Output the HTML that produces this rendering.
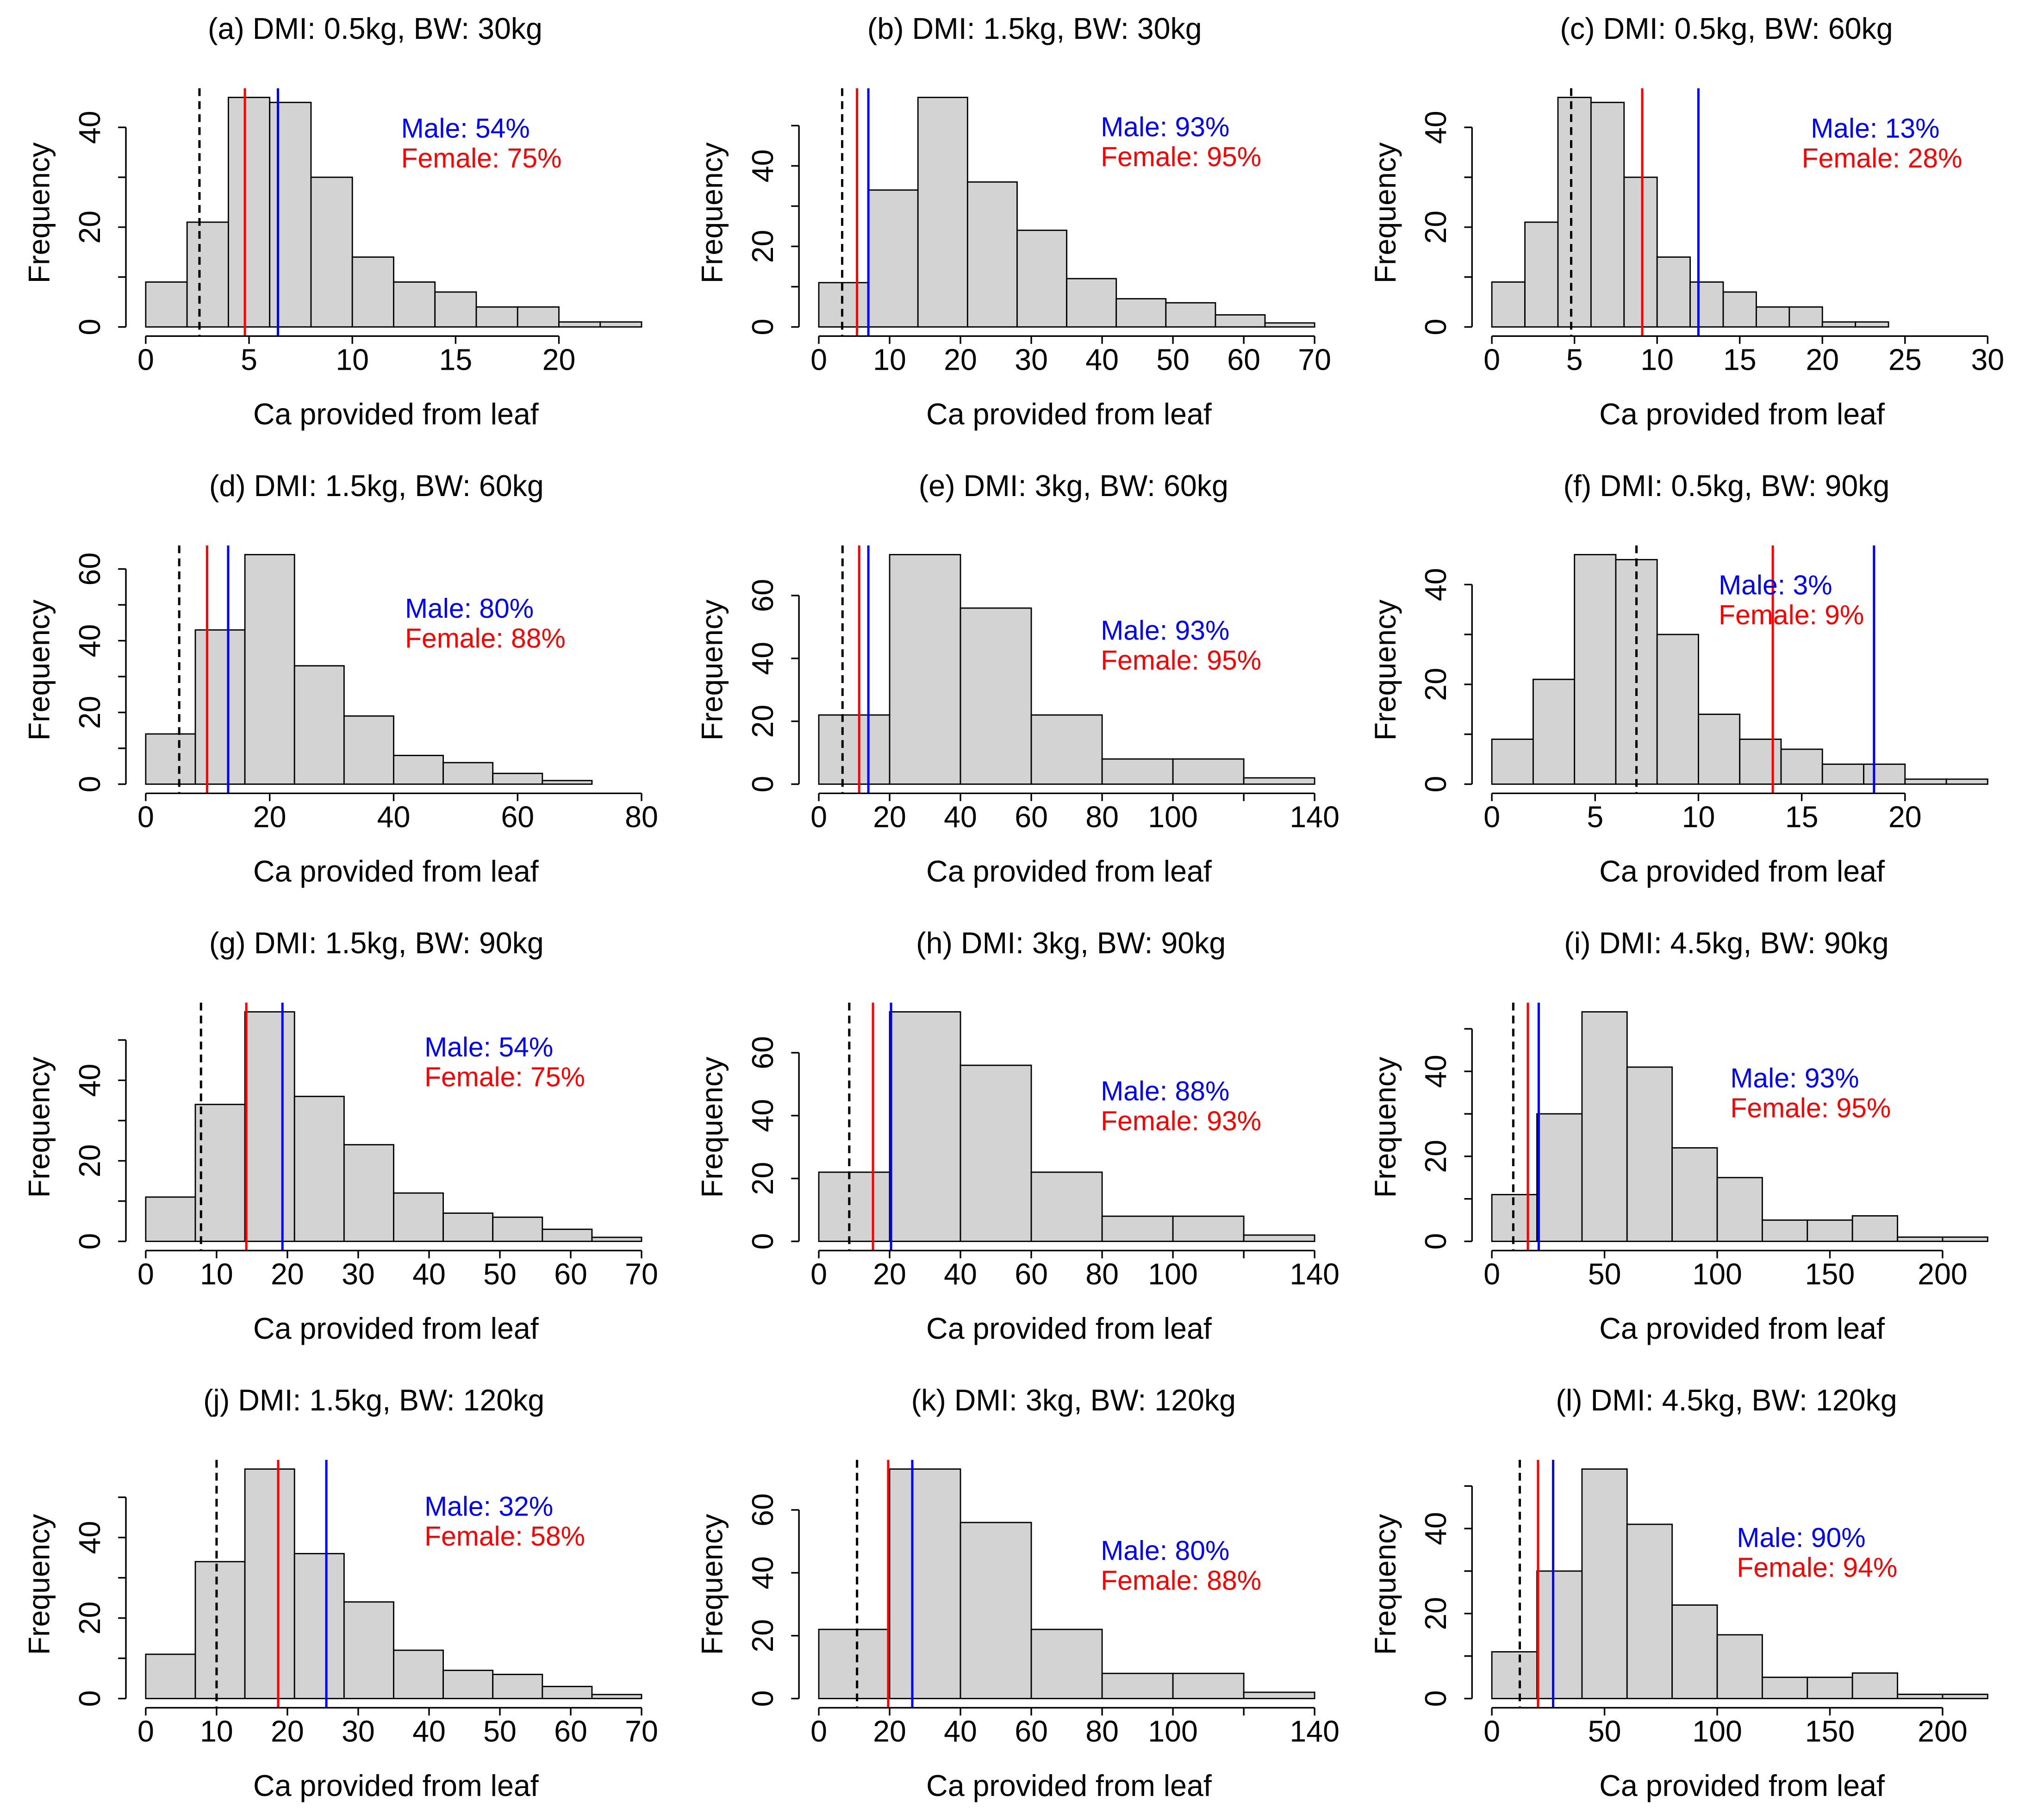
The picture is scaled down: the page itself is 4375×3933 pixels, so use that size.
<!DOCTYPE html>
<html><head><meta charset="utf-8"><style>html,body{margin:0;padding:0;background:#fff}svg{display:block}</style></head>
<body>
<svg id="fig" xmlns="http://www.w3.org/2000/svg" width="4375" height="3933" viewBox="0 0 1560 1402.4" preserveAspectRatio="none" font-family="'Liberation Sans', Arial, sans-serif"></svg>
<script>
// ---- data ----
const titles = ["(a) DMI: 0.5kg, BW: 30kg","(b) DMI: 1.5kg, BW: 30kg","(c) DMI: 0.5kg, BW: 60kg","(d) DMI: 1.5kg, BW: 60kg","(e) DMI: 3kg, BW: 60kg","(f) DMI: 0.5kg, BW: 90kg","(g) DMI: 1.5kg, BW: 90kg","(h) DMI: 3kg, BW: 90kg","(i) DMI: 4.5kg, BW: 90kg","(j) DMI: 1.5kg, BW: 120kg","(k) DMI: 3kg, BW: 120kg","(l) DMI: 4.5kg, BW: 120kg"];
const binStart = [0,0,0,0,0,0,0,0,0,0,0,0];
const binWidth = [2,7,2,8,20,2,7,20,20,7,20,20];
const countsA = [9,21,46,45,30,14,9,7,4,4,1,1];
const countsB = [11,34,57,36,24,12,7,6,3,1];
const countsC = [9,21,46,45,30,14,9,7,4,4,1,1,0,0,0];
const countsD = [14,43,64,33,19,8,6,3,1,0];
const countsE = [22,73,56,22,8,8,2];
const countsI = [11,30,54,41,22,15,5,5,6,1,1];
const counts = [countsA,countsB,countsC,countsD,countsE,countsA,countsB,countsE,countsI,countsB,countsE,countsI];
const xTicks = [[0,5,10,15,20],[0,10,20,30,40,50,60,70],[0,5,10,15,20,25,30],[0,20,40,60,80],[0,20,40,60,80,100,120,140],[0,5,10,15,20],[0,10,20,30,40,50,60,70],[0,20,40,60,80,100,120,140],[0,50,100,150,200],[0,10,20,30,40,50,60,70],[0,20,40,60,80,100,120,140],[0,50,100,150,200]];
const xTickLabels = [["0","5","10","15","20"],["0","10","20","30","40","50","60","70"],["0","5","10","15","20","25","30"],["0","20","40","60","80"],["0","20","40","60","80","100","","140"],["0","5","10","15","20"],["0","10","20","30","40","50","60","70"],["0","20","40","60","80","100","","140"],["0","50","100","150","200"],["0","10","20","30","40","50","60","70"],["0","20","40","60","80","100","","140"],["0","50","100","150","200"]];
const yStep = [10,10,10,10,20,10,10,20,10,10,20,10];
const thresholdLine = [2.6,3.3,4.8,5.4,6.7,7.0,7.8,8.6,9.5,10.0,10.8,12.4];
const femaleLine = [4.8,5.4,9.1,9.9,11.4,13.6,14.2,15.3,16.0,18.7,19.6,20.5];
const maleLine = [6.4,7.0,12.5,13.3,14.0,18.5,19.3,20.4,20.8,25.5,26.4,27.2];
const malePct = ["54%","93%","13%","80%","93%","3%","54%","88%","93%","32%","80%","90%"];
const femalePct = ["75%","95%","28%","88%","95%","9%","75%","93%","95%","58%","88%","94%"];
// ---- layout (not data) ----
const titleCx = [289,797,1330,290,827,1330,290,825,1330,288,827,1330];
const labelX = [309,848,[1395,1388],312,848,1324,327,848,1333,327,848,1338];
const labelY = [98,97,98,468,485,450,806,840,830,1160,1194,1184];

const NS="http://www.w3.org/2000/svg";
const svg=document.getElementById('fig');
function mk(tag,attrs,parent){const e=document.createElementNS(NS,tag);for(const k in attrs)e.setAttribute(k,attrs[k]);(parent||svg).appendChild(e);return e;}
const W=412.5,H=191,FS=23;
for(let p=0;p<12;p++){
  const col=p%3,row=Math.floor(p/3);
  const L=97+518.5*col, T=68+352.3*row, B=T+H;
  const c=counts[p], a=binStart[p], bw=binWidth[p], b=a+bw*c.length;
  const maxC=Math.max(...c);
  const xs=v=>L+W*((v-a)+0.04*(b-a))/(1.08*(b-a));
  const ys=v=>B-H*(v+0.04*maxC)/(1.08*maxC);
  const g=mk('g',{});
  
  
  const t=mk('text',{x:titleCx[p],y:T-38,'font-size':FS,'text-anchor':'middle'},g);
  
  
  t.textContent=titles[p];
  for(let i=0;i<c.length;i++){
    const r=mk('rect',{x:xs(a+i*bw),y:ys(c[i]),width:xs(a+(i+1)*bw)-xs(a+i*bw),height:ys(0)-ys(c[i]),fill:'#d3d3d3',stroke:'#000','stroke-width':1},g);
    
    
  }
  const vl=[[thresholdLine[p],'#000','6,4','threshold-line'],[femaleLine[p],'#ff0000','','female-line'],[maleLine[p],'#0000ff','','male-line']];
  vl.forEach(([v,colr,d,n])=>{
    const l=mk('line',{x1:xs(v),x2:xs(v),y1:T,y2:B,stroke:colr,'stroke-width':1.8},g);
    if(d)l.setAttribute('stroke-dasharray',d);
    
    
  });
  const xt=xTicks[p];
  const xa=mk('line',{x1:xs(xt[0]),x2:xs(xt[xt.length-1]),y1:B,y2:B,stroke:'#000','stroke-width':1.2},g);
  
  
  xt.forEach((v,i)=>{
    mk('line',{x1:xs(v),x2:xs(v),y1:B,y2:B+6,stroke:'#000','stroke-width':1.2},g);
    const tl=mk('text',{x:xs(v),y:B+26,'font-size':FS,'text-anchor':'middle'},g);
    
    
    tl.textContent=xTickLabels[p][i];
  });
  const xl=mk('text',{x:L+208,y:B+68,'font-size':FS,'text-anchor':'middle'},g);
  
  
  xl.textContent='Ca provided from leaf';
  const ytop=Math.floor(maxC/yStep[p])*yStep[p];
  const ya=mk('line',{x1:L,x2:L,y1:ys(0),y2:ys(ytop),stroke:'#000','stroke-width':1.2},g);
  
  
  for(let v=0;v<=ytop;v+=yStep[p]){
    mk('line',{x1:L-6,x2:L,y1:ys(v),y2:ys(v),stroke:'#000','stroke-width':1.2},g);
    if(v%20===0){
      const yl=mk('text',{x:L-20,y:ys(v),'font-size':FS,'text-anchor':'middle',transform:`rotate(-90 ${L-20} ${ys(v)})`},g);
      
      
      yl.textContent=String(v);
    }
  }
  const yt=mk('text',{x:L-59,y:B-95,'font-size':FS,'text-anchor':'middle',transform:`rotate(-90 ${L-59} ${B-95})`},g);
  
  
  yt.textContent='Frequency';
  const lx=Array.isArray(labelX[p])?labelX[p]:[labelX[p],labelX[p]];
  const m=mk('text',{x:lx[0],y:labelY[p]+8,'font-size':21,fill:'#0000ff'},g);
  
  
  m.textContent='Male: '+malePct[p];
  const f=mk('text',{x:lx[1],y:labelY[p]+31,'font-size':21,fill:'#ff0000'},g);
  
  
  f.textContent='Female: '+femalePct[p];
}
</script>
</body></html>
